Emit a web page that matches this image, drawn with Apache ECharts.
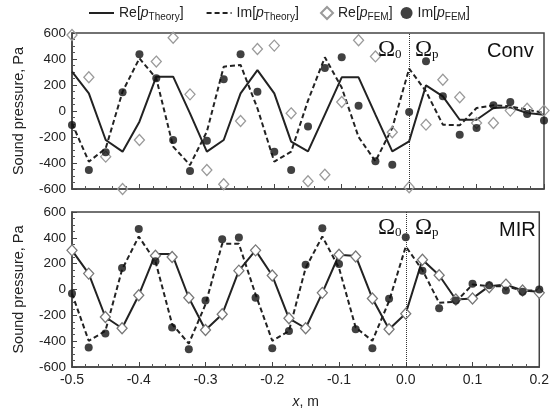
<!DOCTYPE html>
<html><head><meta charset="utf-8">
<script src="https://cdn.jsdelivr.net/npm/echarts@6/dist/echarts.min.js"></script>
<style>html,body{margin:0;padding:0;background:#fff}#c{width:552px;height:410px}</style>
</head><body><div id="c"></div>
<script>
const xs = [-0.5,-0.475,-0.45,-0.425,-0.4,-0.375,-0.35,-0.325,-0.3,-0.275,-0.25,-0.225,-0.2,-0.175,-0.15,-0.125,-0.1,-0.075,-0.05,-0.025,0,0.025,0.05,0.075,0.1,0.125,0.15,0.175,0.2];
// Conv panel
const reTheoryConv = [303,136,-223,-313,-82,264,264,-18,-313,-223,136,315,136,-236,-310,-28,259,259,-28,-310,-233,197,113,-67,-67,23,28,-15,-28];
const imTheoryConv = [-95,-390,-287,149,405,251,-274,-415,-159,341,354,21,-390,-313,80,413,180,-200,-387,-130,326,151,-105,-110,23,44,36,10,-15];
const reFemConv = [585,259,-351,-600,-223,380,564,128,-454,-564,-77,477,503,-18,-541,-490,69,544,420,-164,-587,-105,241,105,-92,-92,3,18,3];
const imFemConv = [-108,-454,-318,144,436,251,-223,-462,-228,244,436,149,-313,-454,-120,331,413,41,-387,-413,-8,382,113,-182,-131,44,69,-23,-74];
// MIR panel
const reTheoryMIR = [303,123,-213,-300,-44,274,274,-64,-313,-192,146,303,108,-223,-300,-26,269,260,-69,-308,-186,231,110,-77,-69,26,38,-8,-18];
const imTheoryMIR = [-31,-397,-321,154,410,218,-269,-418,-115,354,354,-38,-397,-321,167,410,167,-295,-397,-90,333,150,-103,-95,38,26,26,-8,-8];
const reFemMIR = [303,123,-213,-300,-44,262,251,-64,-313,-192,146,303,108,-223,-300,-26,269,256,-69,-308,-187,231,110,-77,-69,18,38,-8,-26];
const imFemMIR = [-31,-449,-341,167,469,218,-295,-462,-85,390,403,-64,-454,-321,192,474,197,-308,-454,-72,405,146,-146,-85,44,33,-8,-18,0];
const xTicks = ['-0.5','-0.4','-0.3','-0.2','-0.1','0.0','0.1','0.2'];
const yTicks = ['-600','-400','-200','0','200','400','600'];

const FONT = '"Liberation Sans", Arial, sans-serif';
const SERIF = '"Liberation Serif", "DejaVu Serif", serif';
const INK = '#222';
const pair = arr => xs.map((x, i) => [x, arr[i]]);

const chart = echarts.init(document.getElementById('c'), null, {renderer: 'canvas'});

function xAxisCfg(idx, showLabels) {
  return {
    gridIndex: idx, type: 'value', min: -0.5, max: 0.2, interval: 0.1,
    axisLine: {show: true, onZero: false, lineStyle: {color: '#444', width: 1.5}},
    axisTick: {show: true, inside: true, length: 5, lineStyle: {color: '#444'}},
    minorTick: {show: true, splitNumber: 5, length: 3, lineStyle: {color: '#555'}},
    splitLine: {show: false},
    axisLabel: {show: showLabels, color: INK, fontFamily: FONT, fontSize: 14, margin: 6,
      formatter: v => { const s = (Math.round(v * 10) / 10).toFixed(1); return xTicks.includes(s) ? s : ''; }},
    name: showLabels ? '{i|x}, m' : '', nameLocation: 'middle', nameGap: 28,
    nameTextStyle: {color: INK, fontFamily: FONT, fontSize: 14,
      rich: {i: {fontStyle: 'italic', fontFamily: FONT, fontSize: 14, color: INK}}}
  };
}
function yAxisCfg(idx) {
  return {
    gridIndex: idx, type: 'value', min: -600, max: 600, interval: 200,
    axisLine: {show: true, onZero: false, lineStyle: {color: '#444', width: 1.5}},
    axisTick: {show: true, inside: true, length: 5, lineStyle: {color: '#444'}},
    minorTick: {show: true, splitNumber: 4, length: 3, lineStyle: {color: '#555'}},
    splitLine: {show: false},
    axisLabel: {color: INK, fontFamily: FONT, fontSize: 13.5, margin: 6, showMinLabel: true, showMaxLabel: true,
      formatter: v => { const s = String(Math.round(v)); return yTicks.includes(s) ? s : ''; }},
    name: 'Sound pressure, Pa', nameLocation: 'middle', nameGap: 46,
    nameTextStyle: {color: INK, fontFamily: FONT, fontSize: 14.5}
  };
}
function panelSeries(idx, reT, imT, reF, imF, diamondBorder, diamondFill) {
  return [
    {name: 'ReT', type: 'line', xAxisIndex: idx, yAxisIndex: idx, data: pair(reT), symbol: 'none',
      lineStyle: {color: INK, width: 2, type: 'solid'}, itemStyle: {color: INK}, z: 2,
      markLine: {silent: true, symbol: ['none', 'none'], label: {show: false},
        lineStyle: {type: 'dotted', color: '#333', width: 1}, data: [{xAxis: 0}]}},
    {name: 'ImT', type: 'line', xAxisIndex: idx, yAxisIndex: idx, data: pair(imT), symbol: 'none',
      lineStyle: {color: INK, width: 2, type: [5, 3]}, itemStyle: {color: INK}, z: 2},
    {name: 'ReF', type: 'scatter', xAxisIndex: idx, yAxisIndex: idx, data: pair(reF), symbol: 'diamond', symbolSize: [10, 11],
      itemStyle: {color: diamondFill, borderColor: diamondBorder, borderWidth: 1.3, opacity: 1}, z: 3},
    {name: 'ImF', type: 'scatter', xAxisIndex: idx, yAxisIndex: idx, data: pair(imF), symbol: 'circle', symbolSize: 8,
      itemStyle: {color: '#111'}, z: 4}
  ];
}
const legendRich = {
  n: {fontFamily: FONT, fontSize: 14, color: INK},
  i: {fontFamily: FONT, fontSize: 14, fontStyle: 'italic', color: INK},
  s: {fontFamily: FONT, fontSize: 10, color: INK, padding: [8, 0, 0, 0]}
};
const legendFmt = {
  ReT: '{n|Re[}{i|p}{s|Theory}{n|]}',
  ImT: '{n|Im[}{i|p}{s|Theory}{n|]}',
  ReF: '{n|Re[}{i|p}{s|FEM}{n|]}',
  ImF: '{n|Im[}{i|p}{s|FEM}{n|]}'
};
const omega = (sub) => '{o|Ω}{s|' + sub + '}';
const omegaRich = {
  o: {fontFamily: SERIF, fontSize: 23, fill: '#111'},
  s: {fontFamily: SERIF, fontSize: 13, fill: '#111', padding: [10, 0, 0, 0]}
};
function txt(x, y, t, rich, extra) {
  return Object.assign({type: 'text', left: x, top: y, style: {text: t, rich: rich, fill: '#111'}, z: 10}, extra || {});
}

const option = {
  animation: false,
  backgroundColor: '#fff',
  legend: [
    {data: ['ReT', 'ImT'], left: 88, top: 6, padding: 0, itemWidth: 25, itemHeight: 14, itemGap: 22,
      itemStyle: {color: 'rgba(0,0,0,0)', borderWidth: 0, opacity: 0},
      formatter: n => legendFmt[n], textStyle: {rich: legendRich}, selectedMode: false},
    {data: ['ReF', 'ImF'], left: 320, top: 6, padding: 0, itemWidth: 12, itemHeight: 12, itemGap: 8,
      formatter: n => legendFmt[n], textStyle: {rich: legendRich}, selectedMode: false}
  ],
  grid: [
    {left: 72, top: 33, width: 472, height: 156, show: true, borderColor: '#444', borderWidth: 1.5, backgroundColor: '#fff'},
    {left: 72, top: 212, width: 472, height: 156, show: true, borderColor: '#444', borderWidth: 1.5, backgroundColor: '#fff'}
  ],
  xAxis: [xAxisCfg(0, false), xAxisCfg(1, true)],
  yAxis: [yAxisCfg(0), yAxisCfg(1)],
  series: [].concat(
    panelSeries(0, reTheoryConv, imTheoryConv, reFemConv, imFemConv, '#9a9a9a', 'rgba(255,255,255,0)'),
    panelSeries(1, reTheoryMIR, imTheoryMIR, reFemMIR, imFemMIR, '#777', '#fff')
  ),
  graphic: [
    txt(378, 38, omega('0'), omegaRich),
    txt(415, 38, omega('p'), omegaRich),
    txt(487, 41, 'Conv', null, {style: {text: 'Conv', fontFamily: FONT, fontSize: 20, fill: '#111'}}),
    txt(378, 216, omega('0'), omegaRich),
    txt(415, 216, omega('p'), omegaRich),
    txt(499, 220, 'MIR', null, {style: {text: 'MIR', fontFamily: FONT, fontSize: 20, fill: '#111'}})
  ]
};
chart.setOption(option);
</script></body></html>
